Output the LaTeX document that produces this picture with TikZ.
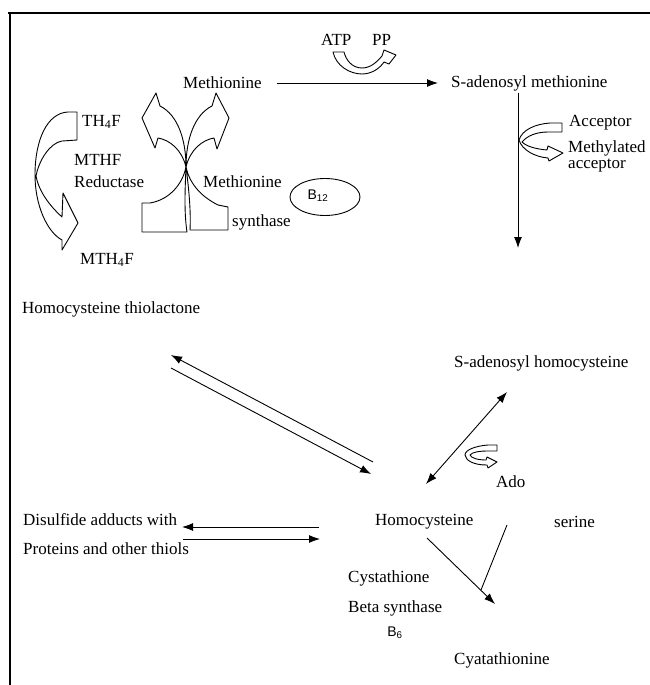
\documentclass[tikz,border=0pt]{standalone}
\usepackage{fontspec}
\setmainfont{Liberation Serif}
\newfontfamily\sansf{Liberation Sans}
\usetikzlibrary{arrows.meta,shapes.geometric}
\begin{document}
\begin{tikzpicture}[x=1pt,y=-1pt,
  lbl/.style={anchor=west,inner sep=0pt,font=\fontsize{17}{20}\selectfont},
  sanslbl/.style={anchor=center,inner sep=0pt,font=\sansf\fontsize{14}{16}\selectfont},
  conn/.style={line width=0.9pt,-{Latex[length=11pt,width=8pt]}},
  biconn/.style={line width=0.9pt,{Latex[length=11pt,width=8pt]}-{Latex[length=11pt,width=8pt]}},
  plain/.style={line width=0.9pt},
  hollow/.style={draw,line width=0.9pt,line join=round},
  frameline/.style={line width=1.8pt}]
\useasboundingbox (0,0) rectangle (650,685);

% frame
\coordinate (ftl) at (8,13);
\coordinate (ftr) at (650,13);
\coordinate (fl1) at (10,12);
\coordinate (fl2) at (10,685);
\draw[frameline] (ftl) -- (ftr);
\draw[frameline] (fl1) -- (fl2);

% labels
\node[lbl] (atp) at (321,40) {ATP};
\node[lbl] (pp) at (372,40) {PP};
\node[lbl] (met) at (183,83) {Methionine};
\node[lbl] (sam) at (451,83) {S-adenosyl methionine};
\node[lbl] (acc) at (569,123) {Acceptor};
\node[lbl] (macc1) at (568,148) {Methylated};
\node[lbl] (macc2) at (568,166) {acceptor};
\node[lbl] (th4f) at (82,122) {TH\textsubscript{4}F};
\node[lbl] (mthf) at (74,160) {MTHF};
\node[lbl] (red) at (74,182) {Reductase};
\node[lbl] (msyn1) at (203,182) {Methionine};
\node[lbl] (msyn2) at (232,222) {synthase};
\node[draw,ellipse,line width=0.9pt,minimum width=70pt,minimum height=37pt,inner sep=0pt] (b12e) at (325,197) {};
\node[sanslbl] (b12) at (318,196) {B\textsubscript{12}};
\node[lbl] (mth4f) at (80,260) {MTH\textsubscript{4}F};
\node[lbl] (hct) at (22,309) {Homocysteine thiolactone};
\node[lbl] (sah) at (454,363) {S-adenosyl homocysteine};
\node[lbl] (ado) at (496,482) {Ado};
\node[lbl] (dis1) at (23,520) {Disulfide adducts with};
\node[lbl] (dis2) at (23,549) {Proteins and other thiols};
\node[lbl] (hcy) at (375,522) {Homocysteine};
\node[lbl] (ser) at (554,522) {serine};
\node[lbl] (cbs1) at (348,578) {Cystathione};
\node[lbl] (cbs2) at (348,608) {Beta synthase};
\node[sanslbl] (b6) at (395,633) {B\textsubscript{6}};
\node[lbl] (cyt) at (454,660) {Cyatathionine};

% connector end points
\coordinate (m1) at (277,83);
\coordinate (m2) at (438,83);
\coordinate (s1) at (518,93);
\coordinate (s2) at (518,248);
\coordinate (t1) at (373,462);
\coordinate (t2) at (171,355);
\coordinate (t3) at (171,368);
\coordinate (t4) at (371,474);
\coordinate (h1) at (426,484);
\coordinate (h2) at (507,392);
\coordinate (d1) at (319,527);
\coordinate (d2) at (182,527);
\coordinate (d3) at (183,539);
\coordinate (d4) at (320,539);
\coordinate (c1) at (427,538);
\coordinate (c2) at (495,604);
\coordinate (r1) at (507,525);
\coordinate (r2) at (481,590);

\draw[conn] (m1) -- (m2);
\draw[conn] (s1) -- (s2);
\draw[conn] (t1) -- (t2);
\draw[conn] (t3) -- (t4);
\draw[biconn] (h1) -- (h2);
\draw[conn] (d1) -- (d2);
\draw[conn] (d3) -- (d4);
\draw[conn] (c1) -- (c2);
\draw[plain] (r1) -- (r2);

% hollow curved arrows
% MTHF reductase
\draw[hollow] (77,112) -- (68,112) .. controls (47,113) and (35,140) .. (35,175)
  .. controls (35,205) and (47,232) .. (62,240) -- (62,250) -- (78,223) -- (63,193) -- (62,217)
  .. controls (50,206) and (39,192) .. (36,176)
  .. controls (39,160) and (50,143) .. (62,141) -- (77,140) -- cycle;

% methionine synthase cross
\coordinate (xc) at (186,167);
\draw[hollow] (xc) .. controls (186,140) and (178,115) .. (160,106) -- (156,93) -- (142,118) -- (155,148) -- (158,138)
  .. controls (170,140) and (182,150) .. (xc);
\draw[hollow] (xc) .. controls (186,140) and (194,115) .. (212,106) -- (216,93) -- (229,118) -- (217,149) -- (214,138)
  .. controls (202,140) and (190,150) .. (xc);
\draw[hollow] (xc) .. controls (185,190) and (184,212) .. (187,232) -- (142,232) -- (142,203) -- (150,203)
  .. controls (168,200) and (182,186) .. (xc);
\draw[hollow] (xc) .. controls (189,190) and (191,212) .. (190,230) -- (228,230) -- (228,207) -- (218,205)
  .. controls (204,198) and (190,186) .. (xc);

% ATP -> PP
\draw[hollow] (333,52) .. controls (336,66) and (350,74) .. (362,74)
  .. controls (372,74) and (380,68) .. (384,62) -- (389,64) -- (396,55) -- (384,50) -- (382,56)
  .. controls (376,63) and (370,68) .. (362,68)
  .. controls (352,68) and (346,60) .. (344,52) -- cycle;

% acceptor
\draw[hollow] (562,123) -- (550,123) .. controls (535,124) and (522,130) .. (519,140)
  .. controls (522,150) and (535,157) .. (548,158) -- (549,161) -- (563,153) -- (548,146) -- (547,150)
  .. controls (535,149) and (526,146) .. (522,142)
  .. controls (527,136) and (536,132) .. (548,132) -- (562,132) -- cycle;

% Ado
\draw[hollow] (497,445) -- (488,445) .. controls (475,446) and (465,450) .. (465,455)
  .. controls (466,461) and (474,465) .. (487,465) -- (488,468) -- (497,462) -- (487,457) -- (486,460)
  .. controls (478,460) and (471,458) .. (470,455)
  .. controls (472,452) and (480,451) .. (488,451) -- (497,451) -- cycle;
\end{tikzpicture}
\end{document}
